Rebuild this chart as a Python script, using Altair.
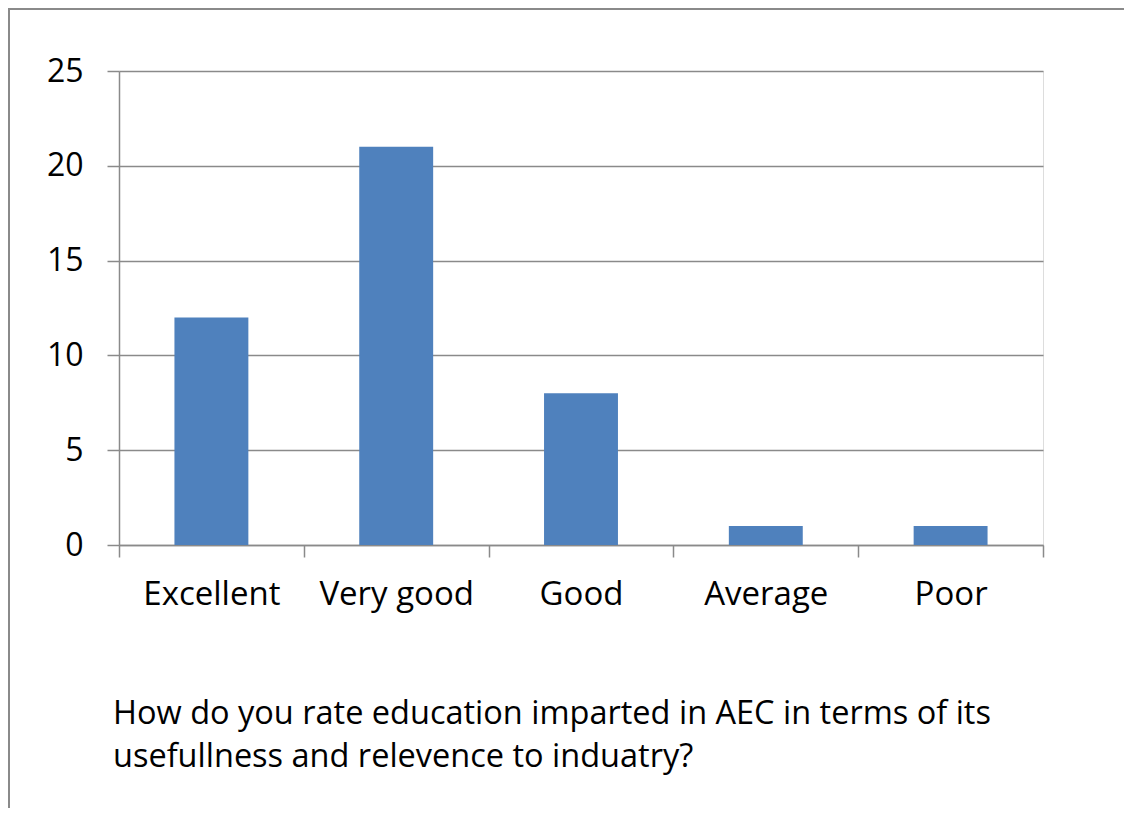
import altair as alt
import pandas as pd

categories = ["Excellent", "Very good", "Good", "Average", "Poor"]
counts = [12, 21, 8, 1, 1]
y_ticks = [0, 5, 10, 15, 20, 25]
title_lines = [
    "How do you rate education imparted in AEC in terms of its",
    "usefullness and relevence to induatry?",
]

df = pd.DataFrame({"category": categories, "count": counts})

FONT = "Open Sans"
GRAY = "#8a8a8a"

bars = alt.Chart(df).mark_bar(color="#4F81BD", width=alt.RelativeBandSize(0.4)).encode(
    x=alt.X(
        "category:N",
        sort=categories,
        scale=alt.Scale(paddingInner=0, paddingOuter=0),
        axis=alt.Axis(
            title=None,
            labelAngle=0,
            tickBand="extent",
            tickSize=12,
            tickColor=GRAY,
            tickWidth=1.5,
            domainColor=GRAY,
            domainWidth=1.5,
            labelFont=FONT,
            labelFontSize=33,
            labelColor="black",
            labelPadding=21,
            grid=False,
        ),
    ),
    y=alt.Y(
        "count:Q",
        scale=alt.Scale(domain=[0, 25], nice=False),
        axis=alt.Axis(
            title=None,
            values=y_ticks,
            tickSize=12,
            tickColor=GRAY,
            tickWidth=1.5,
            domainColor=GRAY,
            domainWidth=1.5,
            labelFont=FONT,
            labelFontSize=32,
            labelColor="black",
            labelPadding=24,
            grid=True,
            gridColor=GRAY,
            gridWidth=1.5,
        ),
    ),
)

frame_df = pd.DataFrame({"k": [0]})
top_border = alt.Chart(frame_df).mark_rule(color=GRAY, strokeWidth=2).encode(
    x=alt.value(-111), x2=alt.value(1005), y=alt.value(-62)
)
left_border = alt.Chart(frame_df).mark_rule(color=GRAY, strokeWidth=2).encode(
    x=alt.value(-110), y=alt.value(-62), y2=alt.value(737)
)

chart = (
    alt.layer(bars, top_border, left_border)
    .properties(
        width=924,
        height=474,
        padding={"left": 111, "top": 63, "right": 81, "bottom": 263},
        autosize=alt.AutoSizeParams(type="none"),
        title=alt.TitleParams(
            text=title_lines,
            orient="bottom",
            anchor="start",
            frame="group",
            baseline="alphabetic",
            font=FONT,
            fontSize=32.5,
            fontWeight="normal",
            color="black",
            lineHeight=43,
            dx=-6,
            offset=-85,
        ),
    )
    .configure_view(stroke="transparent")
    .configure(background="white")
)

chart.save("out.html", embed_options={"renderer": "svg", "actions": False})
